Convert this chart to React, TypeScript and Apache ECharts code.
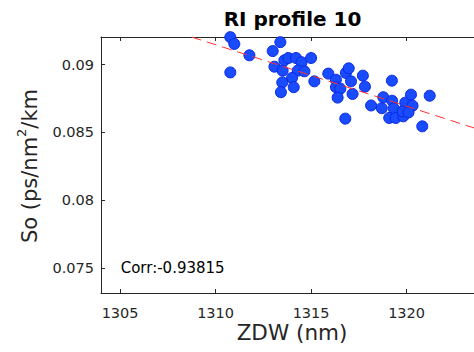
import React, { useEffect, useRef } from "react";
import * as echarts from "echarts";

const zdw = [
  1310.77, 1310.98, 1311.77, 1310.77, 1313.39, 1312.99, 1313.08, 1313.51, 1313.6, 1313.81,
  1314.21, 1314.5, 1315.0, 1314.3, 1314.65, 1314.0, 1313.49, 1314.09, 1313.42, 1315.17,
  1315.9, 1316.3, 1316.3, 1316.53, 1316.39, 1316.82, 1316.97, 1316.79, 1317.09, 1317.17,
  1317.71, 1317.82, 1319.23, 1318.14, 1318.78, 1318.7, 1319.24, 1319.33, 1319.09, 1319.43,
  1319.83, 1319.93, 1320.23, 1320.31, 1319.79, 1320.1, 1321.21, 1320.82,
];
const so = [
  0.09203, 0.09153, 0.09069, 0.08943, 0.09166, 0.091, 0.08985, 0.08956, 0.09032, 0.09049,
  0.09049, 0.09018, 0.09049, 0.08956, 0.08951, 0.08902, 0.08869, 0.08834, 0.08797, 0.08877,
  0.08934, 0.08889, 0.08834, 0.08823, 0.08757, 0.08939, 0.08973, 0.08602, 0.08877, 0.08784,
  0.08919, 0.08838, 0.08882, 0.08699, 0.0876, 0.08679, 0.08734, 0.08677, 0.08607, 0.08607,
  0.08619, 0.0872, 0.08779, 0.08697, 0.08655, 0.08648, 0.08771, 0.08545,
];
const fitX = [1308.74, 1324];
const fitY = [0.09204, 0.08512];
const xTicks = [1305, 1310, 1315, 1320];
const yTicks = [0.075, 0.08, 0.085, 0.09];
const titleText = "RI profile 10";
const xName = "ZDW (nm)";
const corrText = "Corr:-0.93815";

const FONT = "DejaVu Sans";
const AX = "#262626";

export default function App() {
  const ref = useRef<HTMLDivElement>(null);
  useEffect(() => {
    if (!ref.current) return;
    const chart = echarts.init(ref.current, null, { renderer: "svg" });
    const axisCommon = {
      type: "value",
      axisLine: { show: true, lineStyle: { color: AX, width: 1 } },
      splitLine: { show: false },
    };
    chart.setOption({
      animation: false,
      textStyle: { fontFamily: FONT },
      grid: {
        left: 101,
        top: 37,
        width: 382,
        height: 256,
        containLabel: false,
        outerBoundsMode: "none",
      },
      xAxis: [
        {
          ...axisCommon,
          position: "bottom",
          min: 1304,
          max: 1324,
          axisTick: { show: true, inside: true, length: 4, customValues: xTicks, lineStyle: { color: AX } },
          axisLabel: {
            show: true,
            customValues: xTicks,
            color: AX,
            fontSize: 14.5,
            lineHeight: 14,
            fontFamily: FONT,
            margin: 13,
            formatter: (v: number) => String(Math.round(Number(v))),
          },
        },
        {
          ...axisCommon,
          position: "top",
          min: 1304,
          max: 1324,
          axisTick: { show: true, inside: true, length: 4, customValues: xTicks, lineStyle: { color: AX } },
          axisLabel: { show: false },
        },
      ],
      yAxis: [
        {
          ...axisCommon,
          position: "left",
          min: 0.07316,
          max: 0.09204,
          axisTick: { show: true, inside: true, length: 4, customValues: yTicks, lineStyle: { color: AX } },
          axisLabel: {
            show: true,
            customValues: yTicks,
            color: AX,
            fontSize: 14.5,
            fontFamily: FONT,
            margin: 7,
            formatter: (v: number) => String(+Number(v).toFixed(4)),
          },
        },
      ],
      series: [
        {
          type: "scatter",
          xAxisIndex: 0,
          yAxisIndex: 0,
          symbol: "circle",
          symbolSize: 11,
          data: zdw.map((x, i) => [x, so[i]]),
          itemStyle: { color: "#1A4CFF", borderColor: "#0A28E0", borderWidth: 1, opacity: 1 },
          z: 2,
        },
        {
          type: "line",
          xAxisIndex: 0,
          yAxisIndex: 0,
          data: fitX.map((x, i) => [x, fitY[i]]),
          symbol: "none",
          lineStyle: { color: "#FF3030", width: 1, type: [10, 6] },
          z: 3,
        },
      ],
      graphic: [
        {
          type: "text",
          x: 292.5,
          y: 18.5,
          style: {
            text: titleText,
            fontFamily: FONT,
            fontWeight: "bold",
            fontSize: 20,
            fill: "#000000",
            align: "center",
            verticalAlign: "middle",
          },
        },
        {
          type: "text",
          x: 292,
          y: 332,
          style: {
            text: xName,
            fontFamily: FONT,
            fontSize: 21.5,
            lineHeight: 20,
            fill: AX,
            align: "center",
            verticalAlign: "middle",
          },
        },
        {
          type: "text",
          x: 30,
          y: 166,
          rotation: Math.PI / 2,
          style: {
            text: "So (ps/nm{s|2}/km",
            fontFamily: FONT,
            fontSize: 21,
            fill: AX,
            align: "center",
            verticalAlign: "middle",
            rich: {
              s: { fontSize: 13, fontFamily: FONT, fill: AX, verticalAlign: "top", lineHeight: 30 },
            },
          },
        },
        {
          type: "text",
          x: 120.7,
          y: 268.3,
          style: {
            text: corrText,
            fontFamily: FONT,
            fontSize: 15,
            fill: "#000000",
            align: "left",
            verticalAlign: "middle",
          },
        },
      ],
    });
    return () => chart.dispose();
  }, []);
  return (
    <div
      ref={ref}
      style={{ position: "fixed", left: 0, top: 0, width: 474, height: 352, background: "#ffffff" }}
    />
  );
}
